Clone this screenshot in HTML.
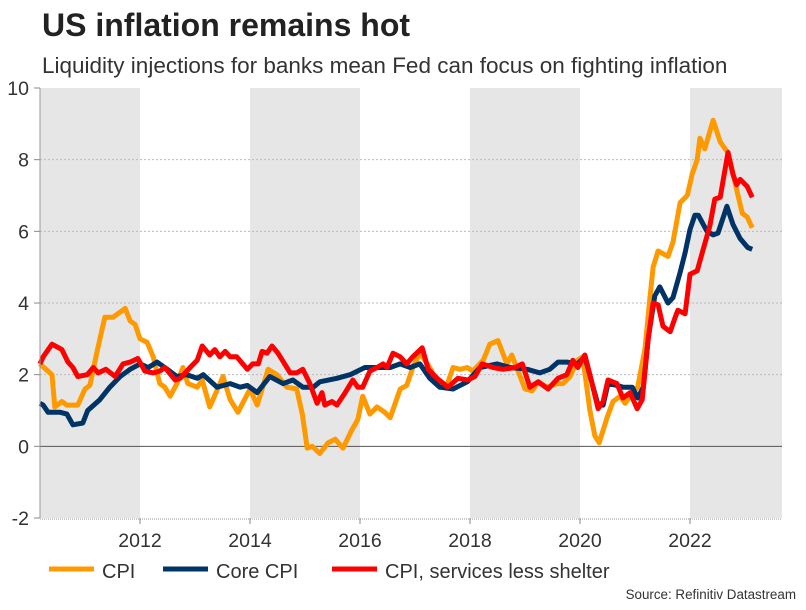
<!DOCTYPE html>
<html><head><meta charset="utf-8"><style>
body{margin:0;background:#fff;font-family:"Liberation Sans",Arial,sans-serif;}
svg text{font-family:"Liberation Sans",Arial,sans-serif;}
</style></head><body>
<svg id="c" width="806" height="605" viewBox="0 0 806 605">
<text x="42" y="36" font-size="32" font-weight="bold" fill="#222">US inflation remains hot</text>
<text x="42" y="73" font-size="22.5" fill="#333">Liquidity injections for banks mean Fed can focus on fighting inflation</text>
<g id="bands"></g><g id="grid"></g><g id="series"></g><g id="axes"></g>
<g>
<line x1="49" y1="569" x2="94" y2="569" stroke="#ff9900" stroke-width="5"/>
<text x="102" y="578" font-size="20" fill="#333">CPI</text>
<line x1="163" y1="569" x2="208" y2="569" stroke="#003366" stroke-width="5"/>
<text x="216" y="578" font-size="20" fill="#333">Core CPI</text>
<line x1="332" y1="569" x2="377" y2="569" stroke="#ff0000" stroke-width="5"/>
<text x="385" y="578" font-size="20" fill="#333">CPI, services less shelter</text>
</g>
<text x="796" y="599" font-size="13.4" fill="#333" text-anchor="end">Source: Refinitiv Datastream</text>
</svg>
<script>
const yTicks=[-2,0,2,4,6,8,10];
const xTicks=[2012,2014,2016,2018,2020,2022];
const bandStarts=[2010,2014,2018,2022];
const cpiDates=[2010.18,2010.40,2010.45,2010.58,2010.67,2010.87,2011.00,2011.09,2011.22,2011.36,2011.51,2011.73,2011.82,2011.91,2012.0,2012.13,2012.24,2012.36,2012.45,2012.55,2012.67,2012.78,2012.87,2013.04,2013.13,2013.27,2013.51,2013.64,2013.78,2014.0,2014.13,2014.33,2014.49,2014.67,2014.85,2014.95,2015.04,2015.13,2015.27,2015.42,2015.55,2015.69,2015.85,2015.96,2016.05,2016.18,2016.31,2016.45,2016.55,2016.73,2016.85,2016.96,2017.09,2017.27,2017.45,2017.58,2017.69,2017.82,2017.95,2018.05,2018.24,2018.36,2018.51,2018.67,2018.76,2018.85,2019.0,2019.13,2019.24,2019.40,2019.58,2019.69,2019.82,2019.95,2020.05,2020.18,2020.27,2020.35,2020.49,2020.60,2020.73,2020.82,2020.96,2021.05,2021.18,2021.27,2021.33,2021.42,2021.60,2021.69,2021.82,2021.95,2022.04,2022.13,2022.18,2022.27,2022.42,2022.55,2022.64,2022.69,2022.82,2022.95,2023.04,2023.13];
const cpiValues=[2.3,2.0,1.1,1.25,1.15,1.15,1.6,1.7,2.65,3.6,3.6,3.85,3.5,3.4,3.0,2.9,2.5,1.75,1.65,1.4,1.75,2.2,1.75,1.65,1.85,1.1,1.95,1.3,0.95,1.6,1.15,2.15,2.0,1.65,1.6,0.9,-0.05,0.0,-0.2,0.1,0.2,-0.05,0.45,0.75,1.4,0.9,1.1,0.95,0.8,1.6,1.7,2.2,2.6,2.2,1.65,1.7,2.2,2.15,2.2,2.1,2.4,2.85,2.95,2.3,2.55,2.2,1.6,1.55,1.8,1.65,1.75,1.75,1.95,2.4,2.5,1.0,0.3,0.1,0.8,1.25,1.4,1.2,1.5,1.65,2.7,4.1,5.0,5.45,5.3,5.7,6.8,7.0,7.6,8.0,8.6,8.3,9.1,8.5,8.3,8.2,7.35,6.5,6.4,6.1];
const coreDates=[2010.18,2010.24,2010.33,2010.55,2010.67,2010.78,2010.96,2011.05,2011.27,2011.45,2011.64,2011.82,2012.0,2012.15,2012.31,2012.45,2012.67,2012.85,2013.04,2013.15,2013.40,2013.64,2013.82,2013.95,2014.13,2014.36,2014.60,2014.78,2014.96,2015.15,2015.27,2015.58,2015.82,2016.09,2016.24,2016.55,2016.73,2016.91,2017.09,2017.27,2017.45,2017.69,2017.95,2018.18,2018.49,2018.73,2019.04,2019.27,2019.45,2019.60,2019.76,2019.95,2020.09,2020.22,2020.33,2020.42,2020.51,2020.67,2020.78,2020.95,2021.05,2021.15,2021.24,2021.36,2021.45,2021.60,2021.69,2021.82,2021.91,2022.0,2022.09,2022.15,2022.31,2022.42,2022.51,2022.67,2022.78,2022.91,2023.05,2023.13];
const coreValues=[1.2,1.15,0.95,0.95,0.9,0.6,0.65,1.0,1.3,1.65,1.95,2.15,2.3,2.2,2.35,2.2,1.95,2.0,1.9,2.0,1.65,1.75,1.65,1.7,1.5,1.95,1.75,1.85,1.65,1.65,1.8,1.9,2.0,2.2,2.2,2.2,2.3,2.2,2.3,1.9,1.65,1.6,1.8,2.2,2.3,2.2,2.15,2.05,2.15,2.35,2.35,2.3,2.5,1.75,1.15,1.15,1.75,1.7,1.65,1.65,1.35,1.65,3.0,4.2,4.45,4.0,4.15,4.85,5.4,6.05,6.45,6.45,6.0,5.9,5.95,6.7,6.2,5.8,5.55,5.5];
const servDates=[2010.18,2010.24,2010.40,2010.58,2010.69,2010.78,2010.87,2011.04,2011.15,2011.24,2011.38,2011.55,2011.69,2011.82,2011.96,2012.09,2012.24,2012.36,2012.45,2012.64,2012.73,2012.91,2013.04,2013.13,2013.27,2013.36,2013.45,2013.55,2013.64,2013.76,2013.95,2014.05,2014.15,2014.22,2014.31,2014.40,2014.51,2014.73,2014.85,2014.96,2015.09,2015.22,2015.31,2015.36,2015.49,2015.58,2015.73,2015.87,2015.96,2016.05,2016.18,2016.31,2016.42,2016.49,2016.60,2016.73,2016.85,2016.96,2017.13,2017.24,2017.40,2017.60,2017.78,2017.96,2018.09,2018.22,2018.42,2018.60,2018.82,2018.95,2019.09,2019.24,2019.42,2019.60,2019.76,2019.87,2019.96,2020.09,2020.22,2020.33,2020.42,2020.51,2020.67,2020.78,2020.91,2021.04,2021.13,2021.24,2021.33,2021.42,2021.51,2021.64,2021.73,2021.78,2021.91,2022.0,2022.13,2022.24,2022.36,2022.45,2022.55,2022.69,2022.78,2022.85,2022.91,2023.04,2023.13];
const servValues=[2.3,2.5,2.85,2.7,2.35,2.2,1.95,2.0,2.2,2.05,2.15,1.95,2.3,2.35,2.45,2.1,2.05,2.1,2.2,1.85,1.9,2.2,2.4,2.8,2.55,2.7,2.5,2.65,2.5,2.5,2.15,2.3,2.3,2.65,2.6,2.8,2.6,2.05,2.05,2.15,1.75,1.2,1.5,1.15,1.25,1.15,1.5,1.85,1.65,1.65,2.1,2.2,2.3,2.2,2.6,2.5,2.3,2.5,2.75,2.15,1.9,1.65,1.9,1.85,1.95,2.3,2.2,2.15,2.2,2.3,1.65,1.8,1.6,1.9,2.0,2.4,2.2,2.55,1.75,1.05,1.25,1.85,1.75,1.35,1.5,1.05,1.3,3.0,4.0,3.95,3.35,3.2,3.6,3.8,3.7,4.8,4.9,5.5,6.15,6.9,6.95,8.2,7.6,7.3,7.45,7.25,6.95];

const NS='http://www.w3.org/2000/svg';
const L=40,R=782,T=88,B=518;
const X=yr=>140+(yr-2012)*55;
const Y=v=>T+(10-v)*(B-T)/12;
function mk(tag,attrs,parent){const e=document.createElementNS(NS,tag);for(const k in attrs)e.setAttribute(k,attrs[k]);parent.appendChild(e);return e;}
const bands=document.getElementById('bands'),grid=document.getElementById('grid'),series=document.getElementById('series'),axes=document.getElementById('axes');
bandStarts.forEach(s=>{
  const x1=Math.max(L,X(s)),x2=Math.min(R,X(s+2));
  const r=mk('rect',{x:x1,y:T,width:x2-x1,height:B-T,fill:'#e6e6e6'},bands);
  
  
});
yTicks.forEach(v=>{
  const y=Y(v);
  if(v!==0&&v!==-2&&v!==10){const g=mk('line',{x1:L,x2:R,y1:y,y2:y,stroke:'#bbb','stroke-width':1,'stroke-dasharray':'2,2'},grid);
  
  }
  const tk=mk('line',{x1:L-6,x2:L,y1:y,y2:y,stroke:'#888'},axes);
  
  
  const t=mk('text',{x:L-11,y:y+7,'font-size':19.5,fill:'#333','text-anchor':'end'},axes);
  t.textContent=v;
  
  
});
const zl=mk('line',{x1:L,x2:R,y1:Y(0),y2:Y(0),stroke:'#555','stroke-width':1},grid);


const ya=mk('line',{x1:L,x2:L,y1:T,y2:B,stroke:'#999'},axes);


const xa=mk('line',{x1:L,x2:R,y1:B+1,y2:B+1,stroke:'#999','stroke-dasharray':'1,1'},axes);


xTicks.forEach(yr=>{
  const x=X(yr);
  const tk=mk('line',{x1:x,x2:x,y1:B,y2:B+6,stroke:'#888'},axes);
  
  
  const t=mk('text',{x:x,y:B+29,'font-size':19.5,fill:'#333','text-anchor':'middle'},axes);
  t.textContent=yr;
  
  
});
function line(d,v,color,name){
  const pts=d.map((yr,i)=>X(yr).toFixed(1)+','+Y(v[i]).toFixed(1)).join(' ');
  const p=mk('polyline',{points:pts,fill:'none',stroke:color,'stroke-width':5,'stroke-linejoin':'round','stroke-linecap':'butt'},series);
  
  
}
line(cpiDates,cpiValues,'#ff9900','cpi-line');
line(coreDates,coreValues,'#003366','core-cpi-line');
line(servDates,servValues,'#ff0000','services-less-shelter-line');
</script>
</body></html>
